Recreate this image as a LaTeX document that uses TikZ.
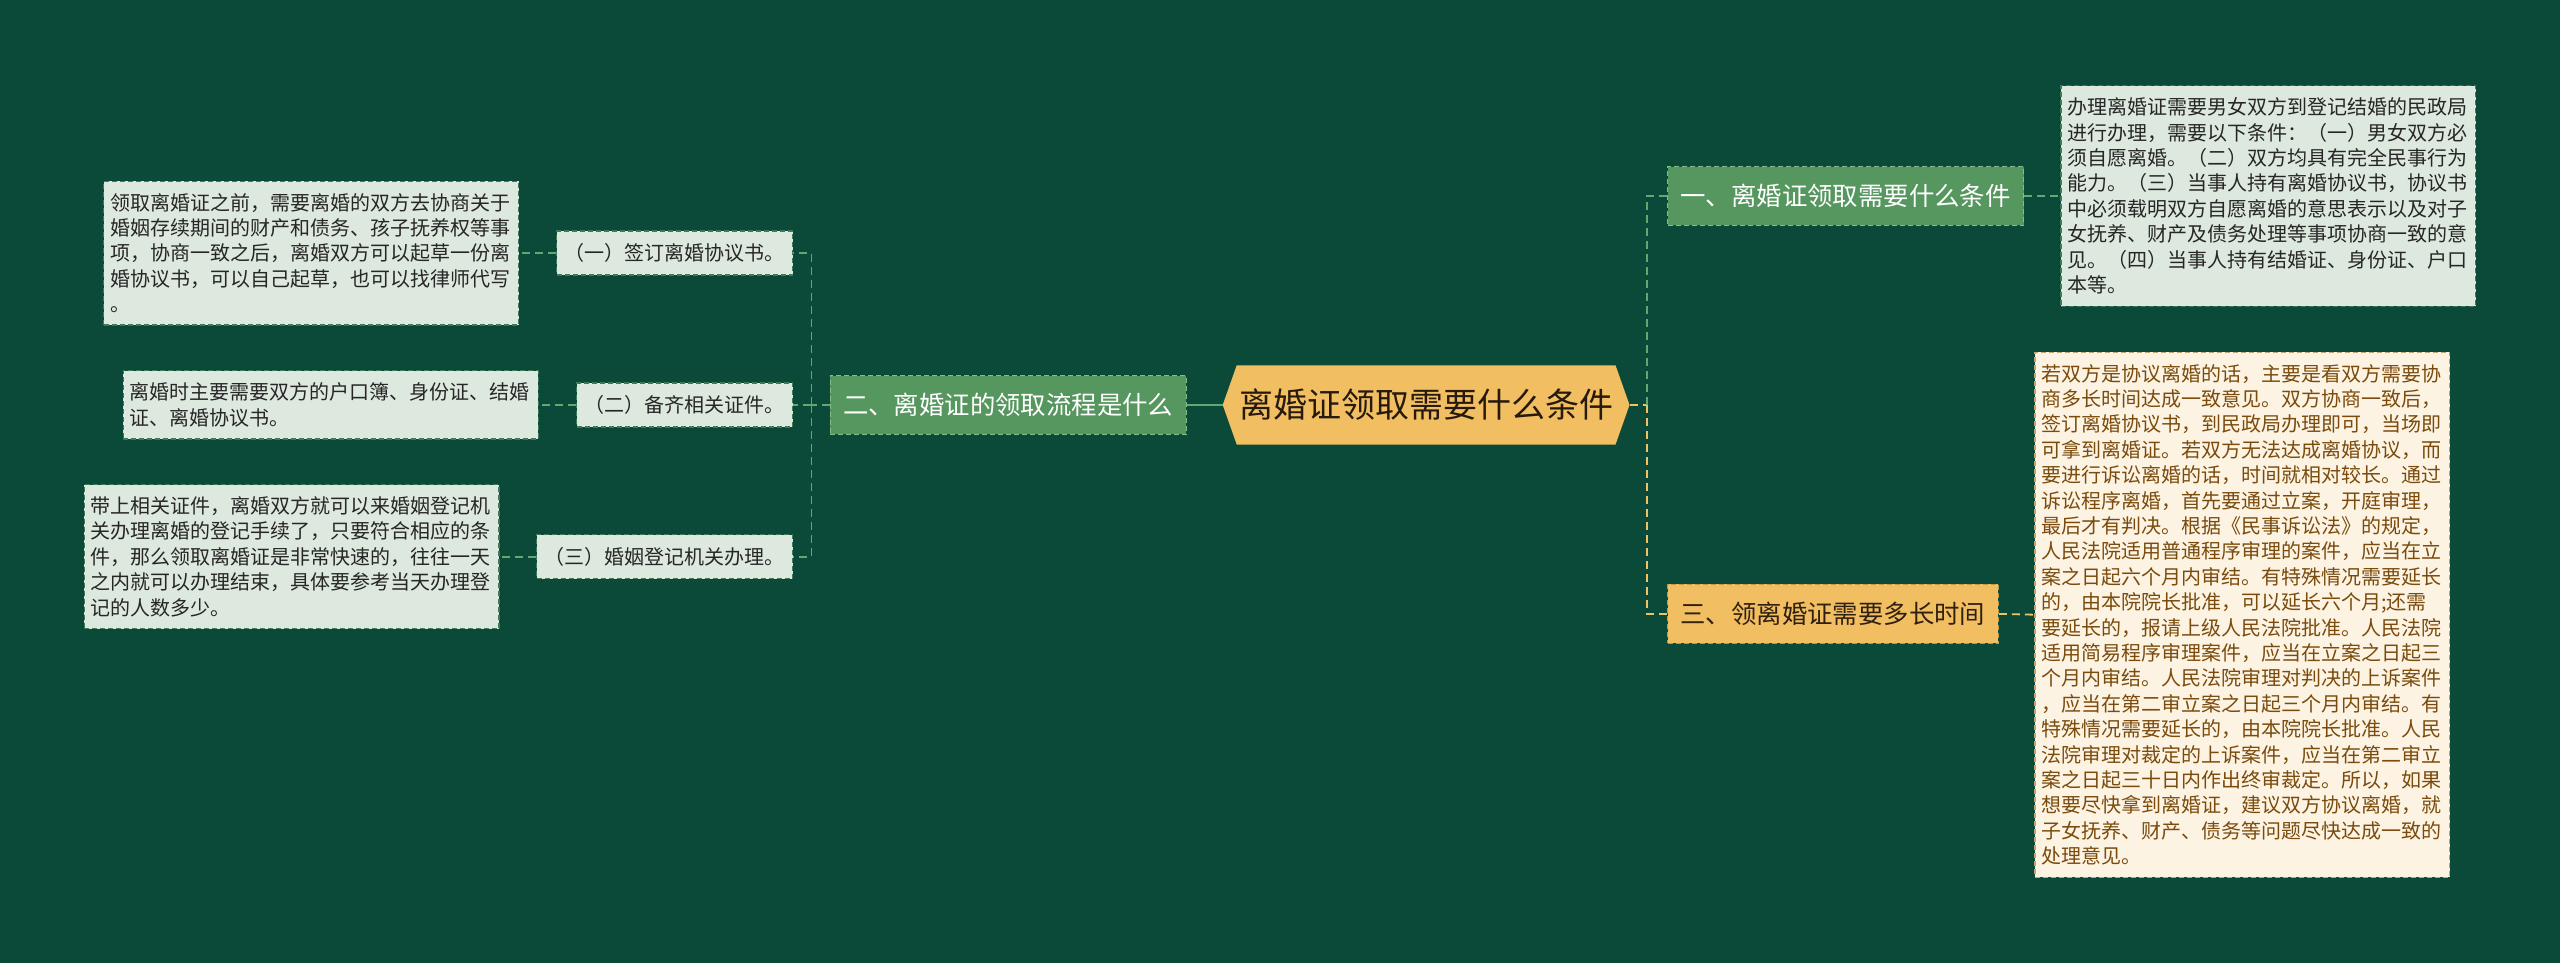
\documentclass[tikz,border=0pt]{standalone}
\usepackage{fontspec}
\setmainfont{Noto Sans CJK SC}
\usetikzlibrary{positioning}
\pgfdeclarelayer{background}
\pgfsetlayers{background,main}
\definecolor{bgcol}{HTML}{0B4A39}
\definecolor{leaffill}{HTML}{DDE8DE}
\definecolor{leafline}{HTML}{3E7A57}
\definecolor{branchfill}{HTML}{56965F}
\definecolor{branchline}{HTML}{86BC8D}
\definecolor{rootfill}{HTML}{F2BE62}
\definecolor{rootline}{HTML}{C8963C}
\definecolor{creamfill}{HTML}{FDF3E3}
\definecolor{creamline}{HTML}{C9A46A}
\definecolor{creamtext}{HTML}{7A4B0C}
\definecolor{gline}{HTML}{62A872}
\definecolor{yline}{HTML}{EFC265}
\tikzset{
  leaf/.style={
    draw=leafline, fill=leaffill, dash pattern=on 2.5pt off 1.5pt, line width=0.6pt,
    text=black!85, font=\fontsize{10}{12.7}\selectfont, align=left,
    text width=201pt, inner xsep=3.2pt, inner ysep=6pt
  },
  cream/.style={
    leaf, draw=creamline, fill=creamfill, text=creamtext
  },
  subbox/.style={
    draw=leafline, fill=leaffill, dash pattern=on 2.5pt off 1.5pt, line width=0.6pt,
    text=black!85, font=\fontsize{10}{12}\selectfont, inner xsep=4pt, inner ysep=0pt,
    minimum height=22pt
  },
  branch/.style={
    draw=branchline, fill=branchfill, dash pattern=on 2.5pt off 1.5pt, line width=0.6pt,
    text=white, font=\fontsize{12.7}{14}\selectfont, inner xsep=6.5pt, inner ysep=0pt,
    minimum height=29.4pt
  },
  obranch/.style={
    branch, draw=rootline, fill=rootfill, text=black!75!brown
  },
  rootbox/.style={
    inner sep=0pt, minimum width=203pt, minimum height=39.2pt,
    font=\fontsize{17}{20}\selectfont, text=black!80!brown
  },
  conn/.style={
    gline, dash pattern=on 4pt off 2.5pt, line width=0.9pt
  },
  yconn/.style={
    conn, yline
  }
}

\begin{document}
\begin{tikzpicture}[x=0.8163pt, y=-0.8163pt]
  \begin{pgfonlayer}{background}
    \fill[bgcol] (0, 0) rectangle (1568, 590);
  \end{pgfonlayer}
  \useasboundingbox (0, 0) rectangle (1568, 590);

  % centre
  \node[rootbox] (root) at (873.5, 248) {离婚证领取需要什么条件};
  \begin{pgfonlayer}{background}
    \fill[rootfill] ([xshift=7pt]root.north west) -- ([xshift=-7pt]root.north east)
      -- (root.east) -- ([xshift=-7pt]root.south east)
      -- ([xshift=7pt]root.south west) -- (root.west) -- cycle;
  \end{pgfonlayer}

  % left side
  \node[branch, anchor=east] (lb) at (727, 248) {二、离婚证的领取流程是什么};
  \node[subbox, anchor=east] (s1) at (486, 155) {（一）签订离婚协议书。};
  \node[subbox, anchor=east] (s2) at (486, 248) {（二）备齐相关证件。};
  \node[subbox, anchor=east] (s3) at (486, 341) {（三）婚姻登记机关办理。};

  \node[leaf, anchor=east] (l1) at (318, 155) {领取离婚证之前，需要离婚的双方去协商关于\\
    婚姻存续期间的财产和债务、孩子抚养权等事\\
    项，协商一致之后，离婚双方可以起草一份离\\
    婚协议书，可以自己起草，也可以找律师代写\\
    。};
  \node[leaf, anchor=east] (l2) at (330, 248) {离婚时主要需要双方的户口簿、身份证、结婚\\
    证、离婚协议书。};
  \node[leaf, anchor=east] (l3) at (306, 341) {带上相关证件，离婚双方就可以来婚姻登记机\\
    关办理离婚的登记手续了，只要符合相应的条\\
    件，那么领取离婚证是非常快速的，往往一天\\
    之内就可以办理结束，具体要参考当天办理登\\
    记的人数多少。};

  \coordinate (lj) at (497, 248);
  \draw[gline, line width=1.2pt] (lb.east) -- (root.west);
  \draw[conn] (lb.west) -- (lj);
  \draw[conn] (lj) |- (s1.east);
  \draw[conn] (lj) |- (s3.east);
  \draw[conn] (lj) -- (s2.east);
  \draw[conn] (s1.west) -- (l1.east);
  \draw[conn] (s2.west) -- (l2.east);
  \draw[conn] (s3.west) -- (l3.east);

  % right side
  \node[branch, anchor=west] (rb1) at (1021, 120) {一、离婚证领取需要什么条件};
  \node[obranch, anchor=west] (rb3) at (1021, 376) {三、领离婚证需要多长时间};

  \node[leaf, anchor=west] (rl1) at (1262, 120) {办理离婚证需要男女双方到登记结婚的民政局\\
    进行办理，需要以下条件：（一）男女双方必\\
    须自愿离婚。（二）双方均具有完全民事行为\\
    能力。（三）当事人持有离婚协议书，协议书\\
    中必须载明双方自愿离婚的意思表示以及对子\\
    女抚养、财产及债务处理等事项协商一致的意\\
    见。（四）当事人持有结婚证、身份证、户口\\
    本等。};
  \node[cream, anchor=west] (rl3) at (1246, 376.5) {若双方是协议离婚的话，主要是看双方需要协\\
    商多长时间达成一致意见。双方协商一致后，\\
    签订离婚协议书，到民政局办理即可，当场即\\
    可拿到离婚证。若双方无法达成离婚协议，而\\
    要进行诉讼离婚的话，时间就相对较长。通过\\
    诉讼程序离婚，首先要通过立案，开庭审理，\\
    最后才有判决。根据《民事诉讼法》的规定，\\
    人民法院适用普通程序审理的案件，应当在立\\
    案之日起六个月内审结。有特殊情况需要延长\\
    的，由本院院长批准，可以延长六个月;还需\\
    要延长的，报请上级人民法院批准。人民法院\\
    适用简易程序审理案件，应当在立案之日起三\\
    个月内审结。人民法院审理对判决的上诉案件\\
    ，应当在第二审立案之日起三个月内审结。有\\
    特殊情况需要延长的，由本院院长批准。人民\\
    法院审理对裁定的上诉案件，应当在第二审立\\
    案之日起三十日内作出终审裁定。所以，如果\\
    想要尽快拿到离婚证，建议双方协议离婚，就\\
    子女抚养、财产、债务等问题尽快达成一致的\\
    处理意见。};

  \coordinate (rj) at (1009, 248);
  \draw[yconn] (root.east) -- (rj);
  \draw[conn] (rj) |- (rb1.west);
  \draw[yconn] (rj) |- (rb3.west);
  \draw[conn] (rb1.east) -- (rl1.west);
  \draw[yconn] (rb3.east) -- (rl3.west);
\end{tikzpicture}
\end{document}
